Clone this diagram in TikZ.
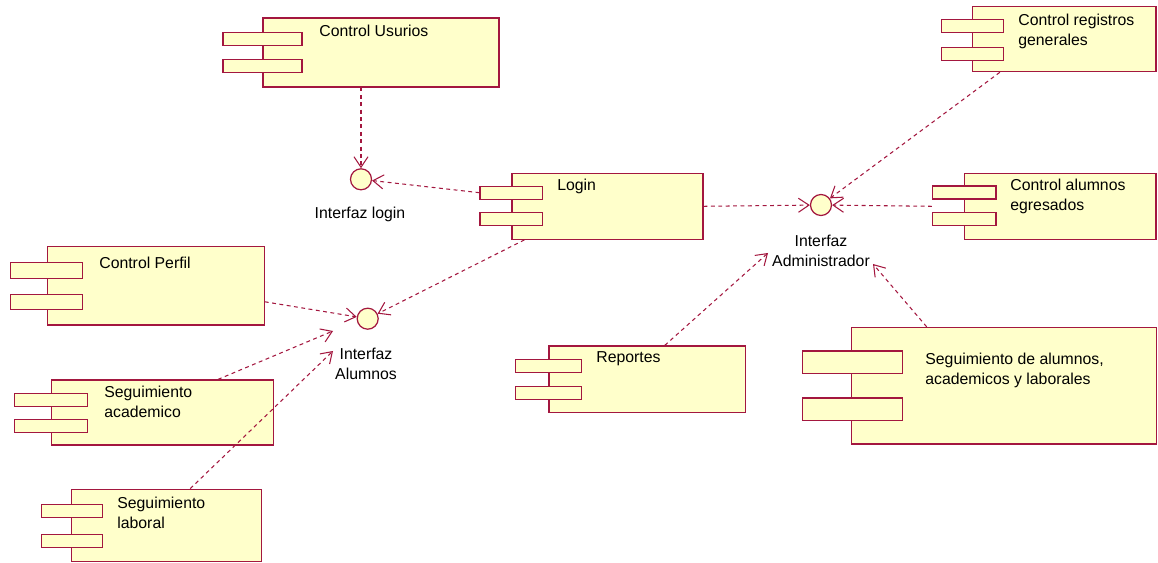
\documentclass[tikz,border=0pt]{standalone}
\usepackage{xcolor}
\usepackage{fontspec}
\setmainfont{Liberation Sans}
\usepackage{tikz}
\usetikzlibrary{arrows.meta,positioning,calc}
\definecolor{umlred}{HTML}{A3173F}
\definecolor{umlyellow}{HTML}{FFFFCB}
\tikzset{
    comp/.style={
        rectangle,
        draw=umlred,
        fill=umlyellow,
        line width=0.7pt,
        inner sep=0pt
    },
    tab/.style={
        comp,
        minimum height=0.26cm
    },
    iface/.style={
        circle,
        draw=umlred,
        fill=umlyellow,
        line width=0.7pt,
        inner sep=0pt,
        minimum size=0.42cm
    },
    ctext/.style={
        anchor=north west,
        inner sep=0pt,
        align=left,
        font=\fontsize{9}{11.7}\selectfont % same size for all labels
    },
    itext/.style={
        ctext,
        anchor=north,
        align=center
    },
    dep/.style={
        draw=umlred,
        line width=0.6pt,
        dash pattern=on 2.2pt off 2pt,
        -{Straight Barb[length=6pt,width=8pt]}
    }
}

\begin{document}
\begin{tikzpicture}[x=0.02cm, y=-0.02cm]
    \useasboundingbox (0,0) rectangle (1158,563);

    % components
    \node (usuarios) [comp, minimum width=4.72cm, minimum height=1.38cm] at (381,52.5) {};
    \node (usuarios-a) [tab, minimum width=1.58cm] at (262.5,39.2) {};
    \node (usuarios-b) [tab, minimum width=1.58cm] at (262.5,66.3) {};
    \node (tusuarios) [ctext] at (319,25) {Control Usurios};

    \node (login) [comp, minimum width=3.82cm, minimum height=1.32cm] at (607.5,206.3) {};
    \node (login-a) [tab, minimum width=1.25cm] at (511.3,192.7) {};
    \node (login-b) [tab, minimum width=1.25cm] at (511.3,219.3) {};
    \node (tlogin) [ctext] at (557,179) {Login};

    \node (registros) [comp, minimum width=3.67cm, minimum height=1.3cm] at (1064.2,39.2) {};
    \node (registros-a) [tab, minimum width=1.23cm] at (972.5,25.8) {};
    \node (registros-b) [tab, minimum width=1.23cm] at (972.5,53.7) {};
    \node (tregistros) [ctext] at (1018,13.3) {Control registros\\generales};

    \node (egresados) [comp, minimum width=3.83cm, minimum height=1.32cm] at (1060.2,206.3) {};
    \node (egresados-a) [tab, minimum width=1.27cm] at (964.3,192.5) {};
    \node (egresados-b) [tab, minimum width=1.27cm] at (964.3,219.2) {};
    \node (tegresados) [ctext] at (1010,178.3) {Control alumnos\\egresados};

    \node (perfil) [comp, minimum width=4.33cm, minimum height=1.57cm] at (156,285.8) {};
    \node (perfil-a) [tab, minimum width=1.43cm, minimum height=0.31cm] at (46.5,270.5) {};
    \node (perfil-b) [tab, minimum width=1.43cm, minimum height=0.31cm] at (46.5,302) {};
    \node (tperfil) [ctext] at (99,256.6) {Control Perfil};

    \node (academico) [comp, minimum width=4.43cm, minimum height=1.3cm] at (162.5,412.5) {};
    \node (academico-a) [tab, minimum width=1.46cm] at (50.8,399.7) {};
    \node (academico-b) [tab, minimum width=1.46cm] at (50.8,425.7) {};
    \node (tacademico) [ctext] at (104,385.6) {Seguimiento\\academico};

    \node (laboral) [comp, minimum width=3.8cm, minimum height=1.45cm] at (166.7,525.5) {};
    \node (laboral-a) [tab, minimum width=1.22cm] at (72.2,510.7) {};
    \node (laboral-b) [tab, minimum width=1.22cm] at (72.2,540.7) {};
    \node (tlaboral) [ctext] at (117,496.6) {Seguimiento\\laboral};

    \node (reportes) [comp, minimum width=3.93cm, minimum height=1.33cm] at (647.3,379.2) {};
    \node (reportes-a) [tab, minimum width=1.32cm] at (548.7,365.7) {};
    \node (reportes-b) [tab, minimum width=1.32cm] at (548.7,393.3) {};
    \node (treportes) [ctext] at (596,351.6) {Reportes};

    \node (seguimiento) [comp, minimum width=6.1cm, minimum height=2.33cm] at (1004.2,385.7) {};
    \node (seguimiento-a) [tab, minimum width=2cm, minimum height=0.45cm] at (852.3,362.2) {};
    \node (seguimiento-b) [tab, minimum width=2cm, minimum height=0.45cm] at (852.3,409.2) {};
    \node (tseguimiento) [ctext] at (925,352.6) {Seguimiento de alumnos,\\academicos y laborales};

    % interfaces
    \node (ilogin) [iface] at (361,179.3) {};
    \node (llogin) [itext] at (360,206.6) {Interfaz login};
    \node (iadmin) [iface] at (821,205) {};
    \node (ladmin) [itext] at (821,234.3) {Interfaz\\Administrador};
    \node (ialumnos) [iface] at (367.7,318.7) {};
    \node (lalumnos) [itext] at (366,347.6) {Interfaz\\Alumnos};

    \coordinate (alumnosA) at (333,331);
    \coordinate (alumnosB) at (333,351);
    \coordinate (adminA) at (768,253);
    \coordinate (adminB) at (873,264);

    % dependencies
    \draw [dep] (ilogin |- usuarios.south) -- (ilogin);
    \draw [dep] (login-a.west) -- (ilogin);
    \draw [dep] ([xshift=0.26cm]login.south west) -- (ialumnos);
    \draw [dep] ([yshift=-0.32cm]perfil.east) -- (ialumnos);
    \draw [dep] ([xshift=1.11cm]academico.north) -- (alumnosA);
    \draw [dep] ([xshift=0.47cm]laboral.north) -- (alumnosB);
    \draw [dep] (login.east) -- (iadmin);
    \draw [dep] ([xshift=0.56cm]registros.south west) -- (iadmin);
    \draw [dep] (egresados.west -| egresados-a.west) -- (iadmin);
    \draw [dep] ([xshift=0.35cm]reportes.north) -- (adminA);
    \draw [dep] ([xshift=-1.55cm]seguimiento.north) -- (adminB);
\end{tikzpicture}
\end{document}
